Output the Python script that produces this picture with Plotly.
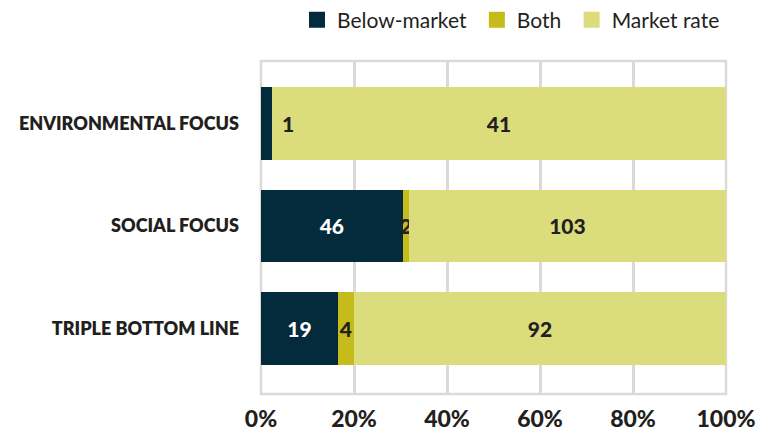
import plotly.graph_objects as go

categories = ["ENVIRONMENTAL FOCUS", "SOCIAL FOCUS", "TRIPLE BOTTOM LINE"]
below_market = [1, 46, 19]
both = [0, 2, 4]
market_rate = [41, 103, 92]
tick_vals = [0, 0.2, 0.4, 0.6, 0.8, 1.0]
tick_text = ["0%", "20%", "40%", "60%", "80%", "100%"]

totals = [a + b + c for a, b, c in zip(below_market, both, market_rate)]
share = lambda vals: [v / t for v, t in zip(vals, totals)]

series = [
    ("Below-market", below_market, "#032b3c", "white"),
    ("Both", both, "#c5bc1c", "#231f20"),
    ("Market rate", market_rate, "#dbdc7c", "#231f20"),
]
label_font = dict(family="Lato", size=21, weight=900)

fig = go.Figure()
for name, vals, color, txt_color in series:
    # tiny below-market segments get their count written beside the bar instead
    labels = [str(v) if v / t > 0.05 or (v > 0 and name == "Both") else ""
              for v, t in zip(vals, totals)]
    fig.add_trace(
        go.Bar(
            y=categories,
            x=share(vals),
            name=name,
            orientation="h",
            marker=dict(color=color, line_width=0),
            text=labels,
            textposition="inside",
            insidetextanchor="middle",
            textfont=dict(label_font, color=txt_color),
            hoverinfo="name+text",
            showlegend=False,
        )
    )
    # bigger legend swatch than plotly's bar symbol; nbsp pads the entry spacing
    fig.add_trace(
        go.Scatter(
            x=[None], y=[None], mode="markers", name=name + "\u00a0",
            marker=dict(symbol="square", size=20, color=color),
            showlegend=True,
        )
    )

annotations = []
for cat, v, t in zip(categories, below_market, totals):
    if 0 < v / t <= 0.05:
        annotations.append(
            dict(
                x=v / t + 0.035, y=cat, xref="x", yref="y", text=str(v),
                showarrow=False,
                font=dict(label_font, color="#231f20"),
            )
        )

fig.update_layout(
    barmode="stack",
    bargap=0.29,
    width=772,
    height=432,
    paper_bgcolor="white",
    plot_bgcolor="white",
    margin=dict(l=261, r=46, t=61, b=38),
    uniformtext=dict(minsize=21, mode="show"),
    annotations=annotations,
    showlegend=True,
    legend=dict(
        orientation="h", x=(297 - 261) / 465, xref="paper", xanchor="left",
        yref="container", y=1 - 20 / 432, yanchor="middle",
        font=dict(family="Lato", size=21, color="#231f20"),
        traceorder="normal", itemwidth=30,
    ),
    shapes=[
        dict(type="rect", xref="paper", yref="paper", x0=0, x1=1, y0=0, y1=1,
             line=dict(color="#dcd9d7", width=2.5), layer="below")
    ],
)

fig.update_xaxes(
    range=[0, 1],
    tickvals=tick_vals,
    ticktext=tick_text,
    showgrid=True,
    gridcolor="#dcd9d7",
    gridwidth=2.5,
    zeroline=False,
    showline=False,
    ticks="",
    ticklabelstandoff=9,
    tickfont=dict(family="Lato", size=23, color="#231f20", weight=900),
    automargin=False,
    fixedrange=True,
)
fig.update_yaxes(
    categoryorder="array",
    categoryarray=categories,
    range=[2.64, -0.61],
    showgrid=False,
    zeroline=False,
    showline=False,
    ticks="",
    ticklabelstandoff=21,
    tickfont=dict(family="Lato", size=18, color="#231f20", weight=800),
    automargin=False,
    fixedrange=True,
)

# drop the default 8px body margin so the 772x432 figure sits at the window origin
fig.write_html(
    "out.html",
    config={"displayModeBar": False},
    post_script="document.body.style.margin='0';document.body.style.overflow='hidden';",
)
